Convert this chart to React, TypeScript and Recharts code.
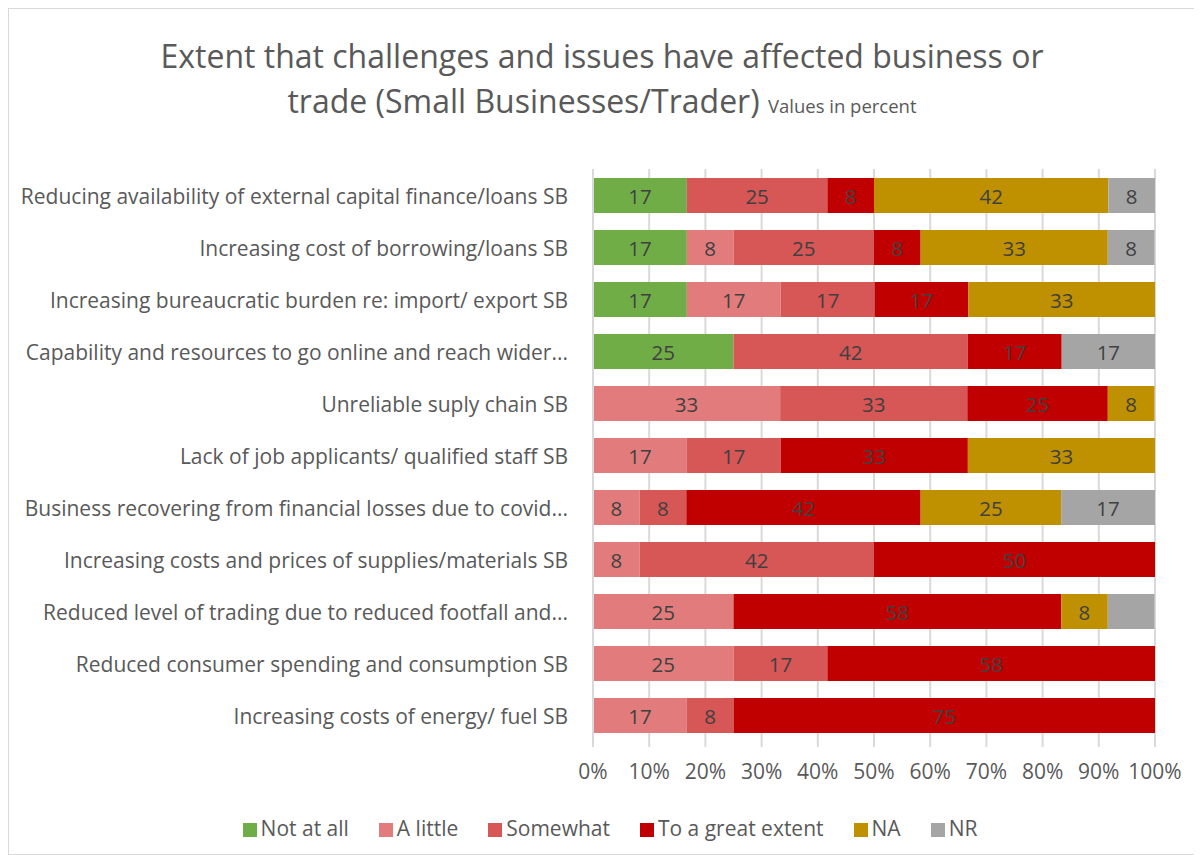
import { BarChart, Bar, XAxis, YAxis, CartesianGrid, Legend, LabelList } from "recharts";

const categories = [
  "Reducing availability of external capital finance/loans SB",
  "Increasing cost of borrowing/loans SB",
  "Increasing bureaucratic burden re: import/ export  SB",
  "Capability and resources to go online and reach wider...",
  "Unreliable suply chain SB",
  "Lack of job applicants/ qualified staff SB",
  "Business recovering from financial losses due to covid...",
  "Increasing costs and prices of supplies/materials SB",
  "Reduced level of trading due to reduced footfall and...",
  "Reduced consumer spending and consumption SB",
  "Increasing costs of energy/ fuel SB",
];

const notAtAll = [16.7, 16.7, 16.7, 25, 0, 0, 0, 0, 0, 0, 0];
const aLittle = [0, 8.3, 16.7, 0, 33.3, 16.7, 8.3, 8.3, 25, 25, 16.7];
const somewhat = [25, 25, 16.7, 41.7, 33.3, 16.7, 8.3, 41.7, 0, 16.7, 8.3];
const greatExtent = [8.3, 8.3, 16.7, 16.7, 25, 33.3, 41.7, 50, 58.3, 58.3, 75];
const na = [41.7, 33.3, 33.3, 0, 8.3, 33.3, 25, 0, 8.3, 0, 0];
const nr = [8.3, 8.3, 0, 16.7, 0, 0, 16.7, 0, 8.3, 0, 0];

// the NR segment of "Reduced level of trading..." has no data label in the original
const hiddenLabels = [{ row: 8, key: "nr" }];

const xTicks = [0, 10, 20, 30, 40, 50, 60, 70, 80, 90, 100];

const series = [
  { key: "notAtAll", name: "Not at all", color: "#70ad47", values: notAtAll },
  { key: "aLittle", name: "A little", color: "#e27c7c", values: aLittle },
  { key: "somewhat", name: "Somewhat", color: "#d75656", values: somewhat },
  { key: "greatExtent", name: "To a great extent", color: "#c00000", values: greatExtent },
  { key: "na", name: "NA", color: "#bf9000", values: na },
  { key: "nr", name: "NR", color: "#a5a5a5", values: nr },
];

const data = categories.map((name, i) => {
  const row: Record<string, any> = { name };
  series.forEach((s) => {
    const v = s.values[i];
    row[s.key] = v > 0 ? v : null;
    const hidden = hiddenLabels.some((h) => h.row === i && h.key === s.key);
    row[s.key + "Label"] = v > 0 && !hidden ? Math.round(v) : null;
  });
  return row;
});

const FONT = "'Open Sans', sans-serif";

const renderLabel = (props: any) => {
  const { x, y, width, height, value } = props;
  if (value == null) return null;
  return (
    <text
      x={x + width / 2}
      y={y + height / 2}
      textAnchor="middle"
      dominantBaseline="central"
      fill="#404040"
      fontSize={20.5}
      fontFamily={FONT}
    >
      {value}
    </text>
  );
};

export default function App() {
  return (
    <div
      style={{
        position: "relative",
        width: 1186,
        height: 845,
        border: "1px solid #d9d9d9",
        background: "#fff",
        fontFamily: FONT,
      }}
    >
      <div
        style={{
          position: "absolute",
          top: 24,
          left: 0,
          width: "100%",
          textAlign: "center",
          color: "#595959",
          fontSize: 32,
          lineHeight: "45px",
          zIndex: 1,
        }}
      >
        Extent that challenges and issues have affected business or
        <br />
        trade (Small Businesses/Trader) <span style={{ fontSize: 18.5 }}>Values in percent</span>
      </div>
      <BarChart
        width={1186}
        height={845}
        data={data}
        layout="vertical"
        barSize={35}
        margin={{ top: 160, right: 40, left: 0, bottom: 12 }}
      >
        <CartesianGrid horizontal={false} stroke="#d9d9d9" strokeWidth={2} />
        <XAxis
          type="number"
          domain={[0, 100]}
          allowDataOverflow
          ticks={xTicks}
          tickFormatter={(v) => `${v}%`}
          axisLine={false}
          tickLine={{ stroke: "#d9d9d9", strokeWidth: 2 }}
          tickSize={6}
          tickMargin={17}
          height={63}
          tick={{ fill: "#595959", fontSize: 21, fontFamily: FONT }}
        />
        <YAxis
          type="category"
          dataKey="name"
          width={584}
          axisLine={{ stroke: "#d9d9d9", strokeWidth: 2 }}
          tickLine={false}
          tickSize={0}
          tickMargin={25}
          interval={0}
          tick={{ fill: "#595959", fontSize: 21, fontFamily: FONT, dy: 2 }}
        />
        <Legend
          verticalAlign="bottom"
          iconType="square"
          iconSize={14}
          itemSorter={(item: any) => series.findIndex((s) => s.name === item.value)}
          wrapperStyle={{ fontSize: 21, fontFamily: FONT, paddingTop: 10, paddingLeft: 43 }}
          formatter={(value) => <span style={{ color: "#595959", marginRight: 20 }}>{value}</span>}
        />
        {series.map((s) => (
          <Bar
            key={s.key}
            dataKey={s.key}
            name={s.name}
            stackId="a"
            fill={s.color}
            isAnimationActive={false}
          >
            <LabelList dataKey={s.key + "Label"} content={renderLabel} />
          </Bar>
        ))}
      </BarChart>
    </div>
  );
}
